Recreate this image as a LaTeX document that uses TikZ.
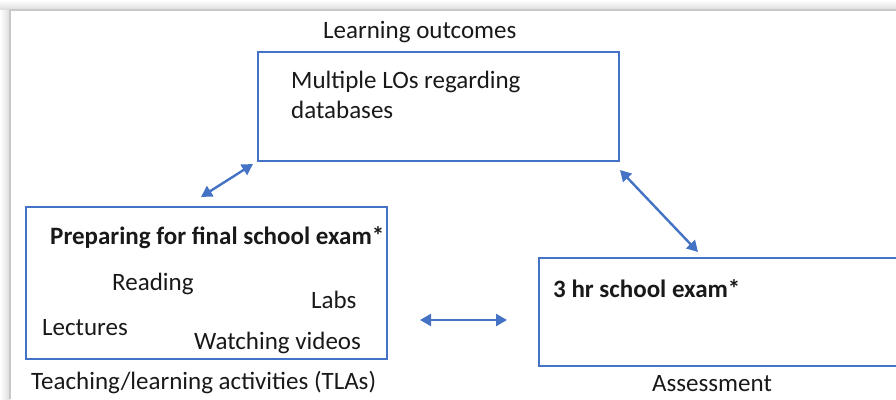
\documentclass[tikz,border=0pt]{standalone}
\usepackage{fontspec}
\setmainfont{Carlito}
\usetikzlibrary{arrows.meta, positioning}
\definecolor{cablue}{RGB}{68, 114, 196}
\definecolor{caframe}{RGB}{200, 200, 200}
\definecolor{catext}{RGB}{25, 25, 25}
\tikzset{
    cabox/.style={draw=cablue, line width=1.3pt, anchor=north west, inner sep=0pt, outer sep=0pt},
    catxt/.style={anchor=base west, inner sep=0pt, text=catext, font=\fontsize{25}{29}\selectfont},
    cabold/.style={catxt, font=\fontsize{25}{29}\selectfont\bfseries},
    caarrow/.style={draw=cablue, line width=2.4pt, {Triangle[length=11pt,width=12pt]}-{Triangle[length=11pt,width=12pt]}}
}

\begin{document}
\begin{tikzpicture}[x=1pt, y=-1pt]
    \useasboundingbox (0,0) rectangle (896,399);
    % window frame
    \shade[top color=white, bottom color=black!14] (0,0) rectangle (896,10);
    \shade[left color=white, right color=black!14] (0,10) rectangle (10,399);
    \draw[caframe, line width=1.2pt] (10,399) -- (10,10) -- (896,10);

    % boxes
    \node[cabox, minimum width=361pt, minimum height=109pt] (lobox) at (258,52) {};
    \node[cabox, minimum width=361pt, minimum height=152pt] (tlabox) at (26,207) {};
    \node[cabox, minimum width=380pt, minimum height=108pt] (asbox) at (539,258) {};

    % titles
    \node[catxt] (lotitle) at (323,38) {Learning outcomes};
    \node[catxt] (tlatitle) at (31,389) {Teaching/learning activities (TLAs)};
    \node[catxt] (astitle) at (652,391) {Assessment};

    % box contents
    \node[catxt] (lotext1) at (291,88) {Multiple LOs regarding};
    \node[catxt] (lotext2) at (291,118) {databases};
    \node[cabold] (tlahead) at (50,244) {Preparing for final school exam*};
    \node[catxt] (reading) at (112,290) {Reading};
    \node[catxt] (labs) at (311,308) {Labs};
    \node[catxt] (lectures) at (42,335) {Lectures};
    \node[catxt] (videos) at (194,349) {Watching videos};
    \node[cabold] (ashead) at (553,297) {3 hr school exam*};

    % arrows
    \coordinate (tlatop) at (201,197);
    \coordinate (loleft) at (253,164);
    \coordinate (loright) at (620,170);
    \coordinate (astop) at (698,252);
    \coordinate (tlaright) at (420,320);
    \coordinate (asleft) at (507,320);
    \draw[caarrow] (tlatop) -- (loleft);
    \draw[caarrow] (loright) -- (astop);
    \draw[caarrow] (tlaright) -- (asleft);
\end{tikzpicture}
\end{document}
